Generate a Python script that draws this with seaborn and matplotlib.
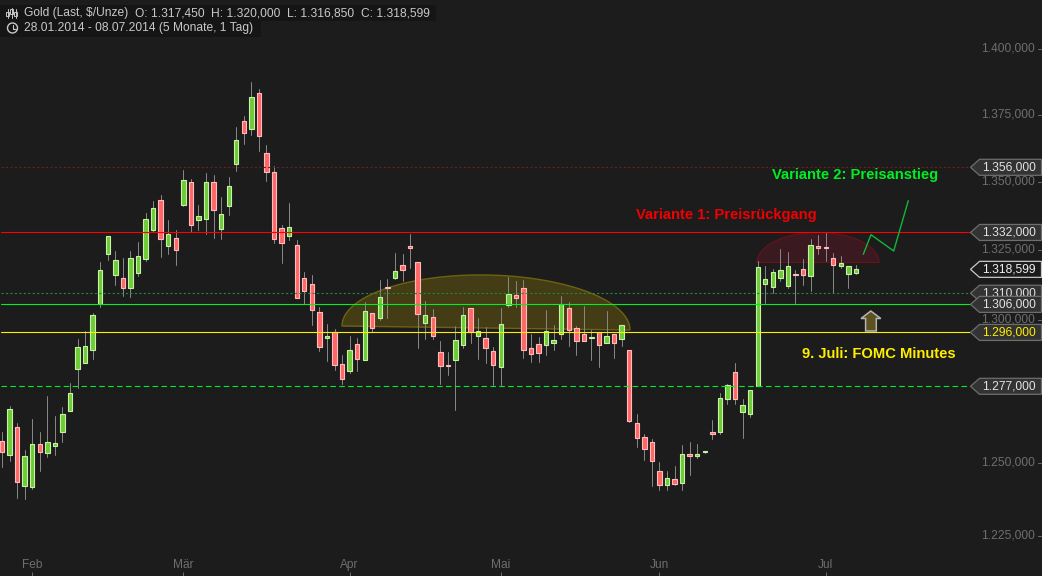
import numpy as np
import pandas as pd
import seaborn as sns
import matplotlib.pyplot as plt
import matplotlib.transforms as mtransforms
from matplotlib.patches import Polygon, Circle, Rectangle

# Candles, daily gold prices
highs = [1261.1, 1270.1, 1264.2, 1254.9, 1265.6, 1261.1, 1273.6, 1266.7, 1269.8, 1278.2,
         1293.7, 1296.6, 1303.0, 1321.3, 1330.7, 1325.2, 1322.7, 1325.2, 1328.5, 1339.1,
         1343.5, 1345.7, 1336.6, 1332.9, 1355.0, 1351.7, 1342.1, 1353.9, 1353.2, 1345.0,
         1352.4, 1371.0, 1375.2, 1388.1, 1385.4, 1364.3, 1356.5, 1334.7, 1342.8, 1329.3,
         1317.7, 1316.6, 1305.1, 1299.1, 1297.3, 1288.0, 1294.8, 1294.1, 1306.8, 1302.9,
         1314.8, 1315.2, 1324.5, 1324.2, 1331.5, 1321.2, 1307.2, 1304.4, 1293.0, 1289.1,
         1298.2, 1305.1, 1304.6, 1301.2, 1298.0, 1290.9, 1304.8, 1315.9, 1314.4, 1314.8,
         1295.5, 1294.4, 1304.0, 1298.7, 1309.0, 1306.8, 1298.2, 1305.5, 1296.8, 1296.1,
         1303.7, 1295.4, 1298.6, 1289.7, 1267.4, 1260.4, 1258.7, 1250.8, 1247.7, 1249.4,
         1256.6, 1257.6, 1257.0, 1254.6, 1265.3, 1274.6, 1277.8, 1285.2, 1272.6, 1275.6,
         1321.6, 1319.8, 1318.8, 1326.0, 1324.9, 1318.3, 1322.3, 1329.6, 1331.1, 1331.8,
         1324.5, 1323.4, 1319.7, 1320.0]
lows = [1249.2, 1251.2, 1238.6, 1238.2, 1241.6, 1247.8, 1252.6, 1253.3, 1257.8, 1268.5,
        1276.5, 1285.3, 1286.7, 1304.9, 1322.0, 1313.1, 1309.1, 1308.8, 1316.3, 1321.6,
        1332.2, 1323.2, 1324.3, 1320.3, 1341.7, 1332.3, 1332.9, 1331.6, 1330.1, 1329.7,
        1338.5, 1354.7, 1364.8, 1368.2, 1362.1, 1351.0, 1328.2, 1321.0, 1329.4, 1308.4,
        1306.1, 1298.8, 1289.4, 1285.9, 1282.8, 1277.9, 1281.5, 1282.2, 1286.4, 1296.3,
        1300.5, 1301.3, 1315.2, 1314.5, 1319.2, 1290.6, 1293.7, 1293.7, 1277.9, 1281.1,
        1268.8, 1290.6, 1292.4, 1286.7, 1285.3, 1277.5, 1277.5, 1305.2, 1305.2, 1287.1,
        1285.7, 1285.7, 1288.1, 1289.6, 1293.8, 1291.3, 1288.1, 1293.1, 1286.4, 1283.6,
        1292.1, 1287.1, 1291.3, 1264.7, 1256.1, 1251.6, 1242.7, 1241.3, 1241.3, 1243.0,
        1241.3, 1246.5, 1252.3, 1254.0, 1258.8, 1260.5, 1270.9, 1270.9, 1259.2, 1266.4,
        1277.2, 1306.6, 1310.0, 1314.5, 1311.7, 1306.6, 1313.1, 1310.9, 1324.3, 1321.7,
        1310.2, 1319.1, 1312.0, 1316.85]
body_tops = [1257.9, 1269.0, 1262.7, 1252.7, 1256.9, 1256.9, 1257.6, 1257.2, 1267.3, 1274.6,
             1290.8, 1291.1, 1302.2, 1318.3, 1330.6, 1322.0, 1315.4, 1322.6, 1323.3, 1336.8,
             1340.9, 1343.8, 1331.3, 1329.9, 1351.2, 1350.4, 1337.9, 1350.4, 1350.4, 1338.7,
             1349.0, 1366.0, 1373.2, 1382.2, 1383.8, 1361.2, 1354.2, 1333.5, 1333.9, 1327.4,
             1315.4, 1313.3, 1303.2, 1294.7, 1296.1, 1284.8, 1289.7, 1291.8, 1303.6, 1302.9,
             1308.6, 1312.3, 1317.9, 1320.1, 1327.0, 1321.2, 1302.2, 1301.4, 1289.0, 1284.5,
             1293.3, 1302.2, 1304.6, 1296.5, 1294.0, 1289.3, 1298.9, 1309.7, 1309.4, 1311.8,
             1290.4, 1291.8, 1296.5, 1293.3, 1306.1, 1304.6, 1297.5, 1295.4, 1294.3, 1296.1,
             1294.7, 1295.4, 1298.6, 1289.7, 1264.1, 1259.3, 1257.6, 1247.6, 1245.2, 1244.9,
             1253.4, 1253.5, 1253.5, 1254.6, 1261.1, 1272.8, 1277.4, 1282.0, 1270.4, 1275.6,
             1319.4, 1315.1, 1317.6, 1318.3, 1319.7, 1317.0, 1318.7, 1327.4, 1327.0, 1326.7,
             1322.6, 1320.8, 1319.7, 1318.599]
body_bottoms = [1254.3, 1253.3, 1244.1, 1242.7, 1242.3, 1254.3, 1254.0, 1256.4, 1261.2, 1268.5,
                1283.2, 1285.3, 1289.6, 1306.1, 1324.3, 1316.7, 1311.7, 1312.0, 1317.4, 1322.4,
                1333.0, 1329.7, 1327.2, 1325.7, 1342.2, 1334.9, 1336.7, 1337.1, 1340.3, 1333.4,
                1341.8, 1357.3, 1368.9, 1370.4, 1367.8, 1354.4, 1329.7, 1328.2, 1330.8, 1308.4,
                1310.9, 1304.1, 1291.0, 1293.9, 1284.6, 1279.7, 1282.5, 1286.7, 1286.4, 1297.4,
                1301.3, 1311.7, 1315.6, 1318.5, 1326.5, 1302.7, 1299.5, 1294.9, 1284.3, 1284.3,
                1286.4, 1291.7, 1296.1, 1294.9, 1290.6, 1284.6, 1283.9, 1305.6, 1308.4, 1289.9,
                1288.5, 1288.8, 1291.7, 1292.4, 1295.6, 1296.7, 1293.1, 1293.1, 1293.9, 1291.7,
                1292.4, 1292.4, 1293.5, 1265.0, 1259.0, 1255.3, 1251.2, 1243.0, 1243.0, 1243.4,
                1243.7, 1252.9, 1252.9, 1254.2, 1260.5, 1261.2, 1272.6, 1272.6, 1268.2, 1267.5,
                1277.2, 1313.3, 1312.4, 1315.3, 1312.7, 1316.7, 1316.5, 1316.1, 1326.3, 1326.2,
                1320.1, 1319.7, 1316.8, 1317.45]
is_up = [0, 1, 0, 1, 1, 0, 1, 1, 1, 1,
         1, 1, 1, 1, 1, 1, 0, 1, 1, 1,
         1, 0, 1, 0, 1, 0, 1, 1, 0, 1,
         1, 1, 0, 1, 0, 0, 0, 0, 1, 0,
         0, 0, 0, 1, 0, 0, 1, 0, 1, 0,
         1, 0, 1, 0, 0, 0, 1, 0, 0, 0,
         1, 1, 0, 1, 0, 0, 1, 1, 0, 0,
         0, 0, 1, 1, 1, 0, 0, 0, 1, 0,
         1, 0, 1, 0, 0, 0, 0, 0, 1, 0,
         1, 0, 1, 1, 0, 1, 1, 0, 1, 1,
         1, 1, 1, 1, 1, 0, 0, 1, 0, 0,
         0, 1, 1, 1]

month_pos = [4, 24, 46, 66, 87, 109]
month_labels = ['Feb', 'Mär', 'Apr', 'Mai', 'Jun', 'Jul']
tick_vals = [1400, 1375, 1350, 1325, 1300, 1250, 1225]
tick_labels = ['1.400,000', '1.375,000', '1.350,000', '1.325,000', '1.300,000', '1.250,000', '1.225,000']

# Horizontal levels drawn by the analyst
levels = [1356, 1332, 1310, 1306, 1296, 1277]
level_labels = ['1.356,000', '1.332,000', '1.310,000', '1.306,000', '1.296,000', '1.277,000']
level_colors = ['#6e1c1c', '#ff0000', '#1f8a35', '#00f020', '#ffee00', '#00ee2a']
level_styles = [(0, (2, 2)), '-', (0, (2, 2)), '-', '-', (0, (5, 3))]
last_price = 1318.599

BG = '#1c1c1c'
W, H = 1042, 576
STEP = 7.557
X0 = 2.0

sns.set_style('dark', {'axes.facecolor': BG, 'figure.facecolor': BG})
plt.rcParams['font.family'] = ['Liberation Sans', 'DejaVu Sans']

fig = plt.figure(figsize=(W / 100, H / 100), dpi=100)
ax = fig.add_axes([0, 0, 1, 1])
ax.set_yscale('log')
ax.set_xlim(-X0 / STEP, (W - X0) / STEP)
ax.set_ylim(1212.3, 1419.63)
for s in ax.spines.values():
    s.set_visible(False)
ax.grid(False)

# pixel coordinates for the drawn-on annotations, origin top left
px = mtransforms.Affine2D().scale(1, -1).translate(0, H)


def half_ellipse(cx, a, h, left_y, right_y):
    t = np.linspace(0, np.pi, 80)
    xs = cx - a * np.cos(t)
    base = left_y + (right_y - left_y) * (xs - xs[0]) / (xs[-1] - xs[0])
    return np.column_stack([xs, base - h * np.sin(t)])


ax.add_patch(Polygon(half_ellipse(486, 144, 53, 326, 330), closed=True, transform=px,
                     facecolor='#433c14', edgecolor='#6e6212', lw=1, zorder=1))
ax.add_patch(Polygon(half_ellipse(818, 61, 30, 262.5, 262.5), closed=True, transform=px,
                     facecolor='#3a1a20', edgecolor='#6a1218', lw=0.8, zorder=1))

# wicks
idx = np.arange(len(highs))
wicks = pd.DataFrame({'i': np.concatenate([idx, idx]), 'price': highs + lows})
sns.lineplot(data=wicks, x='i', y='price', units='i', estimator=None, color='#858585',
             lw=0.72, legend=False, ax=ax, zorder=2)

# bodies
tops = np.array(body_tops)
bottoms = np.array(body_bottoms)
up = np.array(is_up) == 1
bar_w = 4.4 / STEP
ax.bar(idx[up], tops[up] - bottoms[up], bottom=bottoms[up], width=bar_w,
       color='#6ccb36', edgecolor='#c8f2a8', lw=0.8, zorder=3)
ax.bar(idx[~up], tops[~up] - bottoms[~up], bottom=bottoms[~up], width=bar_w,
       color='#ff6666', edgecolor='#ffbcbc', lw=0.8, zorder=3)

# levels
x_start = (1 - X0) / STEP
x_end = (972 - X0) / STEP
for lev, col, st in zip(levels, level_colors, level_styles):
    ax.plot([x_start, x_end], [lev, lev], color=col, ls=st, lw=0.8, zorder=4)

# axes ticks, labels sit inside the plot
ax.set_xlabel('')
ax.set_ylabel('')
ax.set_xticks(month_pos, month_labels)
ax.tick_params(axis='x', direction='in', length=3, width=0.7, pad=-12, colors='#6e6e6e',
               labelsize=8.6, bottom=True)
ax.yaxis.tick_right()
ax.yaxis.set_minor_locator(plt.NullLocator())
ax.yaxis.set_minor_formatter(plt.NullFormatter())
ax.set_yticks(tick_vals, [''] * len(tick_vals))
ax.tick_params(axis='y', length=0)
for val, lab in zip(tick_vals, tick_labels):
    ax.annotate(lab, (1, val), xycoords=('axes fraction', 'data'), xytext=(-43.5, 1.5),
                textcoords='offset points', ha='left', va='center', color='#6e6e6e',
                fontsize=8.65, zorder=5)


def price_y(price):
    return H - ax.transData.transform((0, price))[1]


# the small dashes follow the label text, a bit above the level itself
for val in tick_vals:
    y_tick = price_y(val) - 1.5
    ax.plot([1038, 1041], [y_tick, y_tick], transform=px, color='#6e6e6e', lw=0.7, zorder=5)


def price_tag(price, label, text_color='#e2e2e2', face='#333333', edge='#6e6e6e', zo=6):
    y = price_y(price)
    pts = [(970.5, y), (979.5, y - 8), (1041.5, y - 8), (1041.5, y + 8), (979.5, y + 8)]
    ax.add_patch(Polygon(pts, closed=True, transform=px, facecolor=face, edgecolor=edge,
                         lw=0.9, zorder=zo))
    ax.text(982.5, y, label, transform=px, color=text_color, fontsize=8.65, va='center',
            ha='left', zorder=zo + 0.1)


# order matters, the 1.306 tag covers the 1.310 one
price_tag(1356, level_labels[0], zo=6)
price_tag(1332, level_labels[1], zo=6)
price_tag(1310, level_labels[2], zo=6)
price_tag(1306, level_labels[3], zo=7)
price_tag(1296, level_labels[4], text_color='#ffee00', zo=7)
price_tag(1277, level_labels[5], zo=6)
price_tag(last_price, '1.318,599', text_color='#f0f0f0', face=BG, edge='#c8c8c8', zo=8)

# scenario line, text and arrow
ax.plot([863.3, 871, 893.7, 908.3], [254.3, 234.7, 251, 200.7], transform=px,
        color='#10b838', lw=1.0, zorder=5)
ax.text(772, 174.5, 'Variante 2: Preisanstieg', transform=px, color='#00ee22', fontsize=10.6,
        fontweight='bold', va='center', ha='left', zorder=6)
ax.text(636, 214.5, 'Variante 1: Preisrückgang', transform=px, color='#f00000', fontsize=10.6,
        fontweight='bold', va='center', ha='left', zorder=6)
ax.text(802, 354.5, '9. Juli: FOMC Minutes', transform=px, color='#ffee00', fontsize=10.6,
        fontweight='bold', va='center', ha='left', zorder=6)
arrow = [(870.8, 311), (880.8, 318.5), (876.3, 318.5), (876.3, 331), (865.6, 331), (865.6, 318.5), (861, 318.5)]
ax.add_patch(Polygon(arrow, closed=True, transform=px, facecolor='#5c5220', edgecolor='#b4b4b4',
                     lw=1.1, zorder=6))

# header
ax.add_patch(Rectangle((0, 5), 436, 16, transform=px, facecolor='#151515', edgecolor='none', zorder=6))
ax.add_patch(Rectangle((0, 21), 261, 16, transform=px, facecolor='#151515', edgecolor='none', zorder=6))
HEAD = '#c8c8c8'
for x, txt in [(24, 'Gold (Last, $/Unze)'), (135, 'O: 1.317,450'), (211, 'H: 1.320,000'),
               (287, 'L: 1.316,850'), (361, 'C: 1.318,599')]:
    ax.text(x, 13, txt, transform=px, color=HEAD, fontsize=8.65, va='center', ha='left', zorder=7)
ax.text(24, 28.5, '28.01.2014 - 08.07.2014 (5 Monate, 1 Tag)', transform=px, color=HEAD,
        fontsize=8.65, va='center', ha='left', zorder=7)
for x, y0, y1, b0, b1 in [(7.5, 9, 18, 12, 16), (11.5, 8, 18, 9, 14), (15.5, 9, 18, 12, 16)]:
    ax.plot([x, x], [y0, y1], transform=px, color=HEAD, lw=0.7, zorder=7)
    ax.add_patch(Rectangle((x - 1.3, b0), 2.6, b1 - b0, transform=px, facecolor='none',
                           edgecolor=HEAD, lw=0.7, zorder=7))
ax.add_patch(Circle((12.5, 28), 5, transform=px, facecolor='none', edgecolor=HEAD, lw=1, zorder=7))
ax.plot([12.5, 12.5, 15.5], [24.5, 28.5, 28.5], transform=px, color=HEAD, lw=0.8, zorder=7)

fig.savefig('out.png', dpi=100, facecolor=BG)
